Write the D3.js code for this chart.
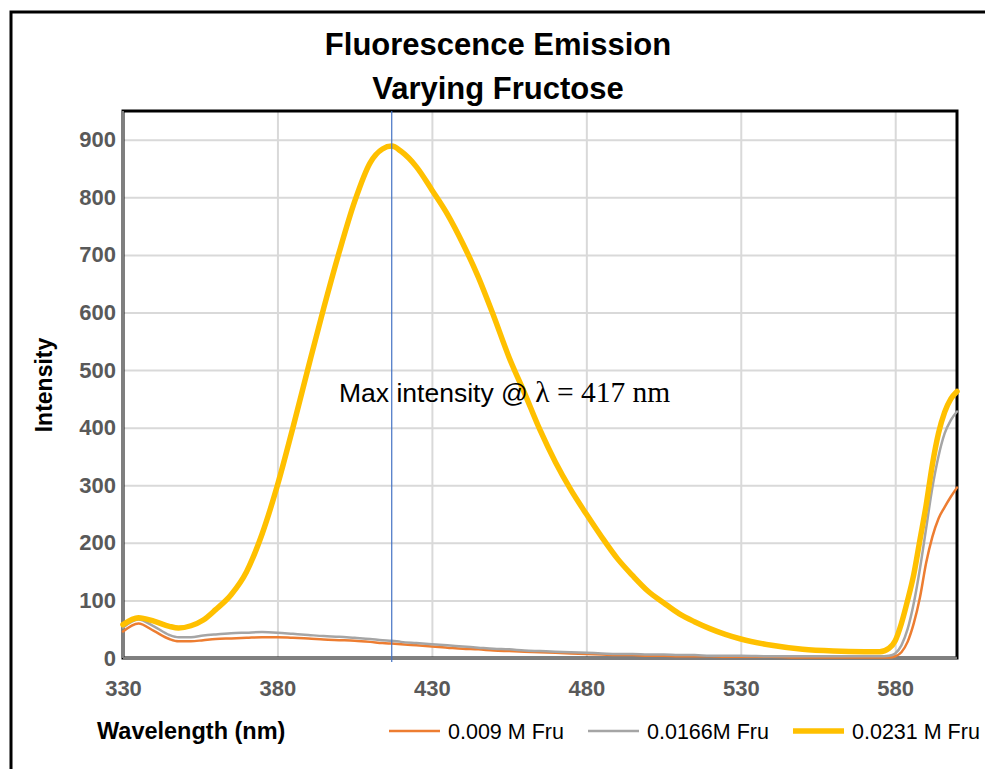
<!DOCTYPE html>
<html>
<head>
<meta charset="utf-8">
<script src="https://cdn.jsdelivr.net/npm/d3@7"></script>
<style>
  body { margin: 0; background: #fff; }
  text { font-family: "Liberation Sans", Arial, sans-serif; }
</style>
</head>
<body>
<svg id="chart" width="985" height="769"></svg>
<script>
// wavelength (nm) and emission intensity
const wavelength = [330, 335, 340, 345, 348, 352, 356, 360, 365, 370, 375, 380, 385, 390, 395, 400, 405, 410, 414, 417,
  420, 425, 430, 435, 440, 445, 450, 455, 460, 465, 470, 475, 480, 485, 490, 495, 500, 505, 510, 515,
  520, 525, 530, 540, 550, 560, 570, 575, 578, 580, 582, 584, 586, 588, 590, 592, 594, 596, 598, 600];

const fru009 = [46, 60, 47, 33, 29, 29, 31, 33, 34, 35, 36, 36, 35, 34, 32, 31, 30, 28, 26, 25,
  24, 22, 20, 18, 16, 15, 13, 12, 11, 10, 9, 8, 7, 6, 5, 5, 4, 4, 3, 3,
  3, 2, 2, 2, 1, 1, 1, 1, 1, 3, 10, 28, 60, 105, 165, 210, 242, 262, 280, 296];

const fru0166 = [53, 67, 55, 40, 36, 36, 39, 41, 43, 44, 45, 44, 42, 40, 38, 37, 35, 33, 31, 30,
  28, 26, 24, 22, 20, 18, 16, 15, 13, 12, 11, 10, 9, 8, 7, 7, 6, 6, 5, 5,
  4, 4, 4, 3, 3, 3, 3, 3, 4, 8, 22, 50, 95, 155, 225, 295, 350, 390, 413, 428];

const fru0231 = [58, 70, 64, 55, 52, 56, 66, 84, 110, 150, 215, 300, 400, 505, 608, 705, 793, 860, 884, 889,
  880, 853, 813, 771, 720, 662, 594, 522, 460, 396, 340, 292, 250, 210, 173, 143, 116, 96, 77, 63,
  51, 41, 33, 22, 15, 12, 11, 11, 17, 30, 60, 100, 145, 205, 265, 335, 390, 427, 450, 463];

const seriesNames = ["0.009 M Fru", "0.0166M Fru", "0.0231 M Fru"];
const seriesColors = ["#ED7D31", "#A5A5A5", "#FFC000"];
const xTicks = [330, 380, 430, 480, 530, 580];
const yTicks = [0, 100, 200, 300, 400, 500, 600, 700, 800, 900];
const peakWavelength = 417;

const plotLeft = 123, plotRight = 957, plotTop = 111, plotBottom = 658;

const svg = d3.select('#chart');
svg.append('rect').attr('width', 985).attr('height', 769).attr('fill', '#fff');

// chart frame (runs past the picture on the right and bottom)
svg.append('rect')
    .attr('x', 11).attr('y', 12).attr('width', 1000).attr('height', 800)
    .attr('fill', 'none').attr('stroke', '#000').attr('stroke-width', 3);

const x = d3.scaleLinear().domain([330, 600]).range([plotLeft, plotRight]);
const y = d3.scaleLinear().domain([0, 950]).range([plotBottom, plotTop]);

// gridlines
svg.append('g')
    .attr('transform', `translate(${plotLeft},0)`)
    .call(d3.axisLeft(y).tickValues(yTicks.slice(1)).tickSize(-(plotRight - plotLeft)).tickFormat(''))
    .call(g => g.select('.domain').remove())
    .call(g => g.selectAll('line').attr('stroke', '#d9d9d9').attr('stroke-width', 2));

svg.append('g')
    .attr('transform', `translate(0,${plotBottom})`)
    .call(d3.axisBottom(x).tickValues(xTicks.slice(1)).tickSize(-(plotBottom - plotTop)).tickFormat(''))
    .call(g => g.select('.domain').remove())
    .call(g => g.selectAll('line').attr('stroke', '#d9d9d9').attr('stroke-width', 2));

// plot area border
svg.append('rect')
    .attr('x', plotLeft).attr('y', plotTop).attr('width', plotRight - plotLeft).attr('height', plotBottom - plotTop)
    .attr('fill', 'none').attr('stroke', '#000').attr('stroke-width', 3);

// axis lines
svg.append('line').attr('x1', plotLeft).attr('x2', plotLeft).attr('y1', plotTop).attr('y2', plotBottom)
    .attr('stroke', '#7f7f7f').attr('stroke-width', 2);
svg.append('line').attr('x1', plotLeft).attr('x2', plotRight).attr('y1', plotBottom).attr('y2', plotBottom)
    .attr('stroke', '#7f7f7f').attr('stroke-width', 2.5);

// series
const series = [fru009, fru0166, fru0231];
const widths = [2.5, 2.5, 5.5];
const line = d3.line()
    .x((d, i) => x(wavelength[i]))
    .y(d => y(d))
    .curve(d3.curveMonotoneX);

series.forEach((vals, k) => {
  svg.append('path')
      .datum(vals)
      .attr('d', line)
      .attr('fill', 'none')
      .attr('stroke', seriesColors[k])
      .attr('stroke-width', widths[k])
      .attr('stroke-linejoin', 'round')
      .attr('stroke-linecap', 'round');
});

// peak marker
svg.append('line')
    .attr('x1', x(peakWavelength)).attr('x2', x(peakWavelength))
    .attr('y1', plotTop).attr('y2', plotBottom + 4)
    .attr('stroke', '#4472C4').attr('stroke-width', 1.2);

const note = svg.append('text').attr('x', 339).attr('y', 402).attr('fill', '#000');
note.append('tspan').attr('font-size', 26.5).text('Max intensity @ ');
note.append('tspan')
    .style('font-family', '"Liberation Serif", "Times New Roman", serif')
    .attr('font-size', 29.5)
    .text('\u03bb = ' + peakWavelength + ' nm');

// tick labels
svg.append('g')
    .attr('transform', `translate(${plotLeft},0)`)
    .call(d3.axisLeft(y).tickValues(yTicks).tickSize(0).tickPadding(7))
    .call(g => g.select('.domain').remove())
    .call(g => g.selectAll('text')
        .attr('font-family', null)
        .attr('font-size', 22).attr('font-weight', 'bold').attr('fill', '#595959'));

svg.append('g')
    .attr('transform', `translate(0,${plotBottom})`)
    .call(d3.axisBottom(x).tickValues(xTicks).tickSize(0).tickPadding(22))
    .call(g => g.select('.domain').remove())
    .call(g => g.selectAll('text')
        .attr('font-family', null)
        .attr('font-size', 22).attr('font-weight', 'bold').attr('fill', '#595959'));

// titles
svg.append('text').attr('x', 498).attr('y', 55).attr('text-anchor', 'middle')
    .attr('font-size', 31).attr('font-weight', 'bold').text('Fluorescence Emission');
svg.append('text').attr('x', 498).attr('y', 99).attr('text-anchor', 'middle')
    .attr('font-size', 31).attr('font-weight', 'bold').text('Varying Fructose');

svg.append('text')
    .attr('transform', 'translate(52,385) rotate(-90)')
    .attr('text-anchor', 'middle')
    .attr('font-size', 23).attr('font-weight', 'bold').text('Intensity');

svg.append('text').attr('x', 97).attr('y', 739)
    .attr('font-size', 23.5).attr('font-weight', 'bold').text('Wavelength (nm)');

// legend
const legendX = [389, 588, 793];
seriesNames.forEach((name, k) => {
  svg.append('line')
      .attr('x1', legendX[k]).attr('x2', legendX[k] + 51)
      .attr('y1', 731).attr('y2', 731)
      .attr('stroke', seriesColors[k]).attr('stroke-width', widths[k]);
  svg.append('text')
      .attr('x', legendX[k] + 59).attr('y', 739)
      .attr('font-size', 21.5).text(name);
});
</script>
</body>
</html>
